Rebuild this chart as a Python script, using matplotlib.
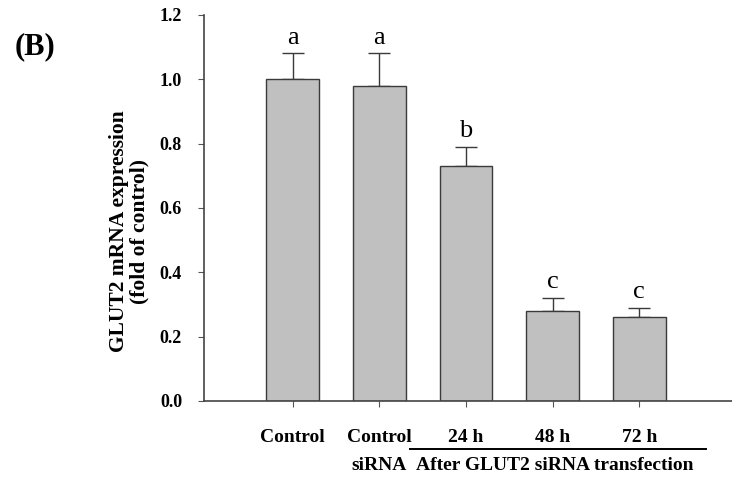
import numpy as np
import matplotlib
matplotlib.use("Agg")
import matplotlib.pyplot as plt

plt.rcParams['font.family'] = ['Liberation Serif', 'DejaVu Serif']

## Data
groups = ["Control", "Control\nsiRNA", "24 h", "48 h", "72 h"]
means = [1.00, 0.98, 0.73, 0.28, 0.26]
errs = [0.08, 0.10, 0.06, 0.04, 0.03]
letters = ["a", "a", "b", "c", "c"]
yticks = [0.0, 0.2, 0.4, 0.6, 0.8, 1.0, 1.2]

fig = plt.figure(figsize=(7.32, 4.79), dpi=100)
ax = fig.add_axes([0.279, 0.163, 0.721, 0.806])

x = np.arange(len(groups))
ax.bar(x, means, width=0.61, color='#c0c0c0', edgecolor='#3a3a3a', linewidth=1.0, zorder=2)
ax.errorbar(x, means, yerr=[np.zeros(len(errs)), errs], fmt='none',
            ecolor='#3a3a3a', elinewidth=1.0, capsize=8, capthick=1.0, zorder=1)

for xi, m, e, l in zip(x, means, errs, letters):
    ax.text(xi, m + e + 0.03, l, ha='center', va='baseline', fontsize=19)

ax.set_xlim(-1.02, 5.07)
ax.set_ylim(0, 1.2)
ax.set_yticks(yticks)
ax.set_yticklabels([f"{t:.1f}" for t in yticks], fontweight='bold', fontsize=13)
ax.set_xticks(x)
ax.set_xticklabels([])
ax.tick_params(axis='both', direction='out', length=4, color='#555555')
ax.tick_params(axis='y', pad=12)
for s in ['top', 'right']:
    ax.spines[s].set_visible(False)
for s in ['left', 'bottom']:
    ax.spines[s].set_color('#444444')
    ax.spines[s].set_linewidth(1.2)

ax.set_ylabel("GLUT2 mRNA expression\n(fold of control)", fontweight='bold', fontsize=15.5,
              linespacing=1.05)
ax.yaxis.set_label_coords(-0.103, 0.44)

# category labels under the axis
trans = ax.get_xaxis_transform()
for xi, g in zip(x, groups):
    lines = g.split("\n")
    ax.text(xi, -0.096, lines[0], transform=trans, ha='center', va='center',
            fontweight='bold', fontsize=14)
    if len(lines) > 1:
        ax.text(xi, -0.166, lines[1], transform=trans, ha='center', va='center',
                fontweight='bold', fontsize=14)

ax.plot([1.36, 4.77], [-0.124, -0.124], transform=trans, color='black', lw=1.4, clip_on=False)
ax.text(3.03, -0.166, "After GLUT2 siRNA transfection", transform=trans, ha='center', va='center',
        fontweight='bold', fontsize=14)

fig.text(0.048, 0.902, "(B)", fontweight='bold', fontsize=22, ha='center', va='center')

fig.savefig("out.png", dpi=100)
